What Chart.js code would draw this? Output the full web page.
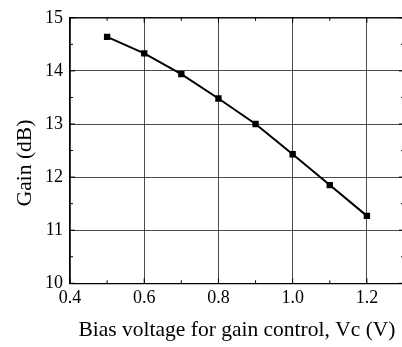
<!DOCTYPE html>
<html>
<head>
<meta charset="utf-8">
<script src="https://cdn.jsdelivr.net/npm/chart.js@4"></script>
<style>
  html, body { margin: 0; padding: 0; background: #fff; }
  #wrap { width: 402px; height: 347px; overflow: hidden; background: #fff; }
</style>
</head>
<body>
<div id="wrap"><canvas id="grafico" width="410" height="347"></canvas></div>
<script>
// gain vs bias voltage
const biasV = [0.5, 0.6, 0.7, 0.8, 0.9, 1.0, 1.1, 1.2];
const gainDb = [14.64, 14.33, 13.94, 13.48, 13.0, 12.43, 11.85, 11.27];

const xMajor = [0.4, 0.6, 0.8, 1.0, 1.2];
const xMinor = [0.5, 0.7, 0.9, 1.1, 1.3];
const yMajor = [10, 11, 12, 13, 14, 15];
const yMinor = [10.5, 11.5, 12.5, 13.5, 14.5];

const xTitle = "Bias voltage for gain control, Vc (V)";
const yTitle = "Gain (dB)";

const serif = "'Liberation Serif', 'Times New Roman', serif";

// inward tick marks, top/right frame and axis titles
const moldura = {
    id: "moldura",
    afterDraw(chart) {
        const { ctx, chartArea: a, scales: { x, y } } = chart;
        ctx.save();
        ctx.strokeStyle = "#000";
        ctx.lineWidth = 1.2;
        ctx.setLineDash([]);
        ctx.beginPath();
        ctx.moveTo(a.left, a.top);
        ctx.lineTo(a.right, a.top);
        ctx.lineTo(a.right, a.bottom);
        ctx.stroke();

        ctx.lineWidth = 1;
        ctx.beginPath();
        const marcaX = (v, len) => {
            const px = x.getPixelForValue(v);
            ctx.moveTo(px, a.bottom); ctx.lineTo(px, a.bottom - len);
            ctx.moveTo(px, a.top); ctx.lineTo(px, a.top + len);
        };
        const marcaY = (v, len) => {
            const py = y.getPixelForValue(v);
            ctx.moveTo(a.left, py); ctx.lineTo(a.left + len, py);
            ctx.moveTo(a.right, py); ctx.lineTo(a.right - len, py);
        };
        xMajor.forEach(v => marcaX(v, 5));
        xMinor.forEach(v => marcaX(v, 3));
        yMajor.forEach(v => marcaY(v, 5));
        yMinor.forEach(v => marcaY(v, 3));
        ctx.stroke();

        ctx.fillStyle = "#000";
        ctx.font = "21.5px " + serif;
        ctx.textAlign = "center";
        ctx.textBaseline = "middle";
        ctx.fillText(xTitle, (a.left + a.right) / 2, 330);

        ctx.translate(25, 163);
        ctx.rotate(-Math.PI / 2);
        ctx.fillText(yTitle, 0, 0);
        ctx.restore();
    }
};

const gradeCor = "rgba(0,0,0,0.7)";

new Chart(document.getElementById("grafico"), {
    type: "line",
    data: {
        datasets: [{
            data: biasV.map((v, i) => ({ x: v, y: gainDb[i] })),
            borderColor: "#000",
            backgroundColor: "#000",
            borderWidth: 2,
            pointStyle: "rect",
            pointRadius: 4.5,
            pointBorderWidth: 0,
            tension: 0
        }]
    },
    options: {
        responsive: false,
        animation: false,
        layout: { padding: { top: 14, right: 6, left: 0, bottom: 0 } },
        plugins: { legend: { display: false }, tooltip: { enabled: false } },
        scales: {
            x: {
                type: "linear",
                min: 0.4,
                max: 1.3,
                afterBuildTicks: s => { s.ticks = xMajor.map(v => ({ value: v })); },
                afterFit: s => { s.height = 63.7; },
                grid: { color: gradeCor, lineWidth: 1, drawTicks: false, dash: [1, 1] },
                border: { color: "#000", width: 1.2 },
                ticks: {
                    color: "#000",
                    font: { family: serif, size: 18 },
                    padding: 4,
                    maxRotation: 0,
                    autoSkip: false,
                    callback: v => v.toFixed(1)
                }
            },
            y: {
                min: 10,
                max: 15,
                afterBuildTicks: s => { s.ticks = yMajor.map(v => ({ value: v })); },
                afterFit: s => { s.width = 70; },
                grid: { color: gradeCor, lineWidth: 1, drawTicks: false, dash: [1, 1] },
                border: { color: "#000", width: 1.2 },
                ticks: {
                    color: "#000",
                    font: { family: serif, size: 18 },
                    padding: 7,
                    callback: v => String(v)
                }
            }
        }
    },
    plugins: [moldura]
});
</script>
</body>
</html>
